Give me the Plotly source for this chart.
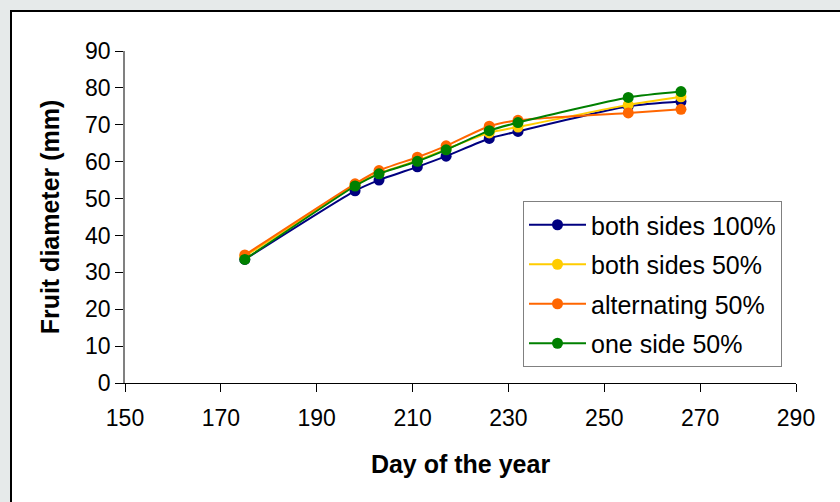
import plotly.graph_objects as go

days = [175, 198, 203, 211, 217, 226, 232, 255, 266]
both_sides_100 = [33.5, 52.1, 55.0, 58.6, 61.5, 66.3, 68.2, 75.0, 76.3]
both_sides_50 = [34.3, 53.6, 56.8, 60.3, 63.4, 67.8, 69.4, 75.4, 77.6]
alternating_50 = [34.7, 54.0, 57.6, 61.2, 64.3, 69.6, 71.2, 73.2, 74.2]
one_side_50 = [33.5, 53.4, 56.7, 60.1, 63.2, 68.4, 70.6, 77.4, 79.0]

names = ["both sides 100%", "both sides 50%", "alternating 50%", "one side 50%"]
colors = ["#000080", "#FFCC00", "#FF6600", "#008000"]
series = [both_sides_100, both_sides_50, alternating_50, one_side_50]

x_ticks = [150, 170, 190, 210, 230, 250, 270, 290]
y_ticks = [0, 10, 20, 30, 40, 50, 60, 70, 80, 90]

FONT = "Liberation Sans, Arial, sans-serif"

fig = go.Figure()
for i, (nm, col, ys) in enumerate(zip(names, colors, series)):
    fig.add_trace(go.Scatter(
        x=days, y=ys, name=nm, mode="lines+markers",
        line=dict(color=col, width=2, shape="spline", smoothing=0.6),
        marker=dict(color=col, size=11),
        legendgroup=f"g{i}",
    ))

L, R, T, B = 125, 44, 51, 119
W, H = 840, 502
pw, ph = W - L - R, H - T - B

def px_x(p):
    return (p - L) / pw

def px_y(p):
    return (H - B - p) / ph

fig.add_shape(type="rect", xref="paper", yref="paper", layer="below",
              x0=px_x(11), x1=px_x(900), y0=px_y(560), y1=px_y(11),
              fillcolor="white", line=dict(color="black", width=2))

fig.update_layout(
    width=W, height=H,
    margin=dict(l=L, r=R, t=T, b=B),
    paper_bgcolor="#e6eaea",
    plot_bgcolor="rgba(0,0,0,0)",
    font=dict(family=FONT, size=24, color="black"),
    showlegend=True,
    legend=dict(
        x=px_x(523), y=px_y(201), xanchor="left", yanchor="top",
        bgcolor="white", bordercolor="#808080", borderwidth=1,
        font=dict(size=25), tracegroupgap=4, traceorder="grouped",
        itemwidth=57,
    ),
    xaxis=dict(
        range=[150, 290], tickvals=x_ticks, showgrid=False, zeroline=False,
        showline=True, linecolor="black", linewidth=1,
        ticks="outside", ticklen=8, tickcolor="black",
        tickfont=dict(size=23), ticklabelstandoff=6,
        title=dict(text="<b>Day of the year</b>", standoff=25, font=dict(size=25)),
    ),
    yaxis=dict(
        range=[0, 90], tickvals=y_ticks, showgrid=False, zeroline=False,
        showline=True, linecolor="#808080", linewidth=1.5,
        ticks="outside", ticklen=8, tickcolor="black",
        tickfont=dict(size=23),
        title=dict(text="<b>Fruit diameter (mm)</b>", standoff=18, font=dict(size=25)),
    ),
)

fig.write_html("out.html")
